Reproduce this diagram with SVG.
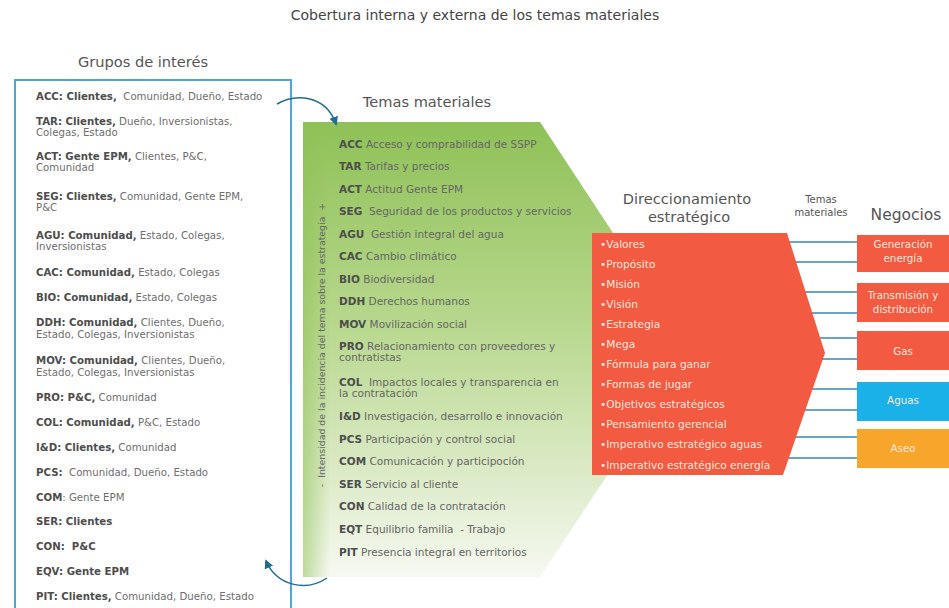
<svg xmlns="http://www.w3.org/2000/svg" width="949" height="608" viewBox="0 0 949 608">
<style>
text{font-family:"DejaVu Sans","Liberation Sans",sans-serif;}
.h{font-size:14.6px;fill:#555;}
.t{font-size:10.2px;fill:#6e6e6e;}
.b{font-weight:bold;fill:#4d4d4d;}
.g{font-size:10.5px;fill:#666;}
.v{font-size:9.4px;fill:#666;}
.r{font-size:10.6px;fill:#fde6de;}
.w{font-size:10.3px;fill:#fde6de;text-anchor:middle;}
.conn{stroke:#3a86b6;stroke-width:1.4;fill:none;}
.arc{stroke:#1f6e92;stroke-width:1.5;fill:none;marker-end:url(#ah);}
</style>
<defs>
<marker id="ah" viewBox="0 0 10 10" refX="8" refY="5" markerWidth="6" markerHeight="6" orient="auto"><path d="M0,0 L10,5 L0,10 z" fill="#1f6e92"/></marker>
<linearGradient id="gv" x1="0" y1="0" x2="0" y2="1">
<stop offset="0" stop-color="#8fc157"/>
<stop offset="0.45" stop-color="#b8d88e"/>
<stop offset="0.8" stop-color="#dfeccc"/>
<stop offset="1" stop-color="#f6f9f1"/>
</linearGradient>
<linearGradient id="gh" x1="0" y1="0" x2="1" y2="0">
<stop offset="0" stop-color="#8fc157" stop-opacity="0.55"/>
<stop offset="1" stop-color="#8fc157" stop-opacity="0"/>
</linearGradient>
</defs>
<rect width="949" height="608" fill="#fff"/>
<text x="475" y="20" class="h" style="font-size:14px;fill:#444" text-anchor="middle">Cobertura interna y externa de los temas materiales</text>

<g id="grupos">
<text x="143" y="67" class="h" text-anchor="middle">Grupos de interés</text>
<rect x="15" y="80" width="276" height="540" fill="none" stroke="#4fa6d4" stroke-width="2"/>
<text class="t" x="36" y="100" xml:space="preserve"><tspan class="b">ACC: Clientes,</tspan>  Comunidad, Dueño, Estado</text>
<text class="t" x="36" y="125"><tspan class="b">TAR: Clientes,</tspan> Dueño, Inversionistas,</text>
<text class="t" x="36" y="136">Colegas, Estado</text>
<text class="t" x="36" y="160"><tspan class="b">ACT: Gente EPM,</tspan> Clientes, P&amp;C,</text>
<text class="t" x="36" y="171">Comunidad</text>
<text class="t" x="36" y="200"><tspan class="b">SEG: Clientes,</tspan> Comunidad, Gente EPM,</text>
<text class="t" x="36" y="211">P&amp;C</text>
<text class="t" x="36" y="239"><tspan class="b">AGU: Comunidad,</tspan> Estado, Colegas,</text>
<text class="t" x="36" y="250">Inversionistas</text>
<text class="t" x="36" y="276"><tspan class="b">CAC: Comunidad,</tspan> Estado, Colegas</text>
<text class="t" x="36" y="301"><tspan class="b">BIO: Comunidad,</tspan> Estado, Colegas</text>
<text class="t" x="36" y="326"><tspan class="b">DDH: Comunidad,</tspan> Clientes, Dueño,</text>
<text class="t" x="36" y="338">Estado, Colegas, Inversionistas</text>
<text class="t" x="36" y="364"><tspan class="b">MOV: Comunidad,</tspan> Clientes, Dueño,</text>
<text class="t" x="36" y="376">Estado, Colegas, Inversionistas</text>
<text class="t" x="36" y="401"><tspan class="b">PRO: P&amp;C,</tspan> Comunidad</text>
<text class="t" x="36" y="426"><tspan class="b">COL: Comunidad,</tspan> P&amp;C, Estado</text>
<text class="t" x="36" y="451"><tspan class="b">I&amp;D: Clientes,</tspan> Comunidad</text>
<text class="t" x="36" y="476" xml:space="preserve"><tspan class="b">PCS:</tspan>  Comunidad, Dueño, Estado</text>
<text class="t" x="36" y="501"><tspan class="b">COM</tspan>: Gente EPM</text>
<text class="t" x="36" y="525"><tspan class="b">SER: Clientes</tspan></text>
<text class="t" x="36" y="550" xml:space="preserve"><tspan class="b">CON:  P&amp;C</tspan></text>
<text class="t" x="36" y="575"><tspan class="b">EQV: Gente EPM</tspan></text>
<text class="t" x="36" y="600"><tspan class="b">PIT: Clientes,</tspan> Comunidad, Dueño, Estado</text>
</g>

<g id="temas">
<text x="427" y="107" class="h" text-anchor="middle">Temas materiales</text>
<polygon points="303,122 540,122 690,350 540,577 303,577" fill="url(#gv)"/>
<polygon points="303,122 330,122 330,577 303,577" fill="url(#gh)"/>
<text class="v" transform="translate(325,345) rotate(-90)" text-anchor="middle" xml:space="preserve">-  Intensidad de la incidencia del tema sobre la estrategia  +</text>
<text class="g" x="339" y="148"><tspan class="b">ACC</tspan> Acceso y comprabilidad de SSPP</text>
<text class="g" x="339" y="170"><tspan class="b">TAR</tspan> Tarifas y precios</text>
<text class="g" x="339" y="193"><tspan class="b">ACT</tspan> Actitud Gente EPM</text>
<text class="g" x="339" y="215" xml:space="preserve"><tspan class="b">SEG</tspan>  Seguridad de los productos y servicios</text>
<text class="g" x="339" y="238" xml:space="preserve"><tspan class="b">AGU</tspan>  Gestión integral del agua</text>
<text class="g" x="339" y="260"><tspan class="b">CAC</tspan> Cambio climático</text>
<text class="g" x="339" y="283"><tspan class="b">BIO</tspan> Biodiversidad</text>
<text class="g" x="339" y="305"><tspan class="b">DDH</tspan> Derechos humanos</text>
<text class="g" x="339" y="328"><tspan class="b">MOV</tspan> Movilización social</text>
<text class="g" x="339" y="350"><tspan class="b">PRO</tspan> Relacionamiento con proveedores y</text>
<text class="g" x="339" y="361">contratistas</text>
<text class="g" x="339" y="386" xml:space="preserve"><tspan class="b">COL</tspan>  Impactos locales y transparencia en</text>
<text class="g" x="339" y="397">la contratación</text>
<text class="g" x="339" y="420"><tspan class="b">I&amp;D</tspan> Investigación, desarrollo e innovación</text>
<text class="g" x="339" y="443"><tspan class="b">PCS</tspan> Participación y control social</text>
<text class="g" x="339" y="465"><tspan class="b">COM</tspan> Comunicación y participoción</text>
<text class="g" x="339" y="488"><tspan class="b">SER</tspan> Servicio al cliente</text>
<text class="g" x="339" y="510"><tspan class="b">CON</tspan> Calidad de la contratación</text>
<text class="g" x="339" y="533" xml:space="preserve"><tspan class="b">EQT</tspan> Equilibrio familia  - Trabajo</text>
<text class="g" x="339" y="556"><tspan class="b">PIT</tspan> Presencia integral en territorios</text>
</g>

<g id="connectors">
<path class="arc" d="M277,104 C296,93 326,95 336,124"/>
<path class="arc" d="M327,578 C306,592 277,586 266,561"/>
<line class="conn" x1="780" y1="242" x2="857" y2="242"/>
<line class="conn" x1="780" y1="262" x2="857" y2="262"/>
<line class="conn" x1="780" y1="292" x2="857" y2="292"/>
<line class="conn" x1="780" y1="313" x2="857" y2="313"/>
<line class="conn" x1="780" y1="338" x2="857" y2="338"/>
<line class="conn" x1="780" y1="359" x2="857" y2="359"/>
<line class="conn" x1="780" y1="389" x2="857" y2="389"/>
<line class="conn" x1="780" y1="410" x2="857" y2="410"/>
<line class="conn" x1="780" y1="437" x2="857" y2="437"/>
<line class="conn" x1="780" y1="458" x2="857" y2="458"/>
</g>

<g id="direccionamiento">
<text x="687" y="204" class="h" text-anchor="middle">Direccionamiento</text>
<text x="689" y="222" class="h" text-anchor="middle">estratégico</text>
<polygon points="592,233 787,233 825,353 783,475 592,475" fill="#f25a41"/>
<text class="r" x="600" y="248">•Valores</text>
<text class="r" x="600" y="268">•Propósito</text>
<text class="r" x="600" y="288">•Misión</text>
<text class="r" x="600" y="308">•Visión</text>
<text class="r" x="600" y="328">•Estrategia</text>
<text class="r" x="600" y="348">•Mega</text>
<text class="r" x="600" y="368">•Fórmula para ganar</text>
<text class="r" x="600" y="388">•Formas de jugar</text>
<text class="r" x="600" y="408">•Objetivos estratégicos</text>
<text class="r" x="600" y="428">•Pensamiento gerencial</text>
<text class="r" x="600" y="448">•Imperativo estratégico aguas</text>
<text class="r" x="600" y="469">•Imperativo estratégico energía</text>
</g>

<g id="temas-header">
<text x="821" y="203" style="font-size:10px;fill:#555" text-anchor="middle">Temas</text>
<text x="821" y="216" style="font-size:10px;fill:#555" text-anchor="middle">materiales</text>
</g>

<g id="negocios">
<text x="906" y="220" class="h" style="font-size:15.5px" text-anchor="middle">Negocios</text>
</g>
<g id="generacion">
<rect x="857" y="235" width="95" height="37" fill="#f25a41"/>
<text class="w" x="903" y="248">Generación</text>
<text class="w" x="903" y="262">energía</text>
</g>
<g id="transmision">
<rect x="857" y="283" width="95" height="39" fill="#f25a41"/>
<text class="w" x="903" y="299">Transmisión y</text>
<text class="w" x="903" y="313">distribución</text>
</g>
<g id="gas">
<rect x="857" y="331" width="95" height="39" fill="#f25a41"/>
<text class="w" x="903" y="355">Gas</text>
</g>
<g id="aguas">
<rect x="857" y="382" width="95" height="39" fill="#1ab1e8"/>
<text class="w" x="903" y="404">Aguas</text>
</g>
<g id="aseo">
<rect x="857" y="429" width="95" height="39" fill="#f7a52b"/>
<text class="w" x="903" y="452">Aseo</text>
</g>
</svg>
